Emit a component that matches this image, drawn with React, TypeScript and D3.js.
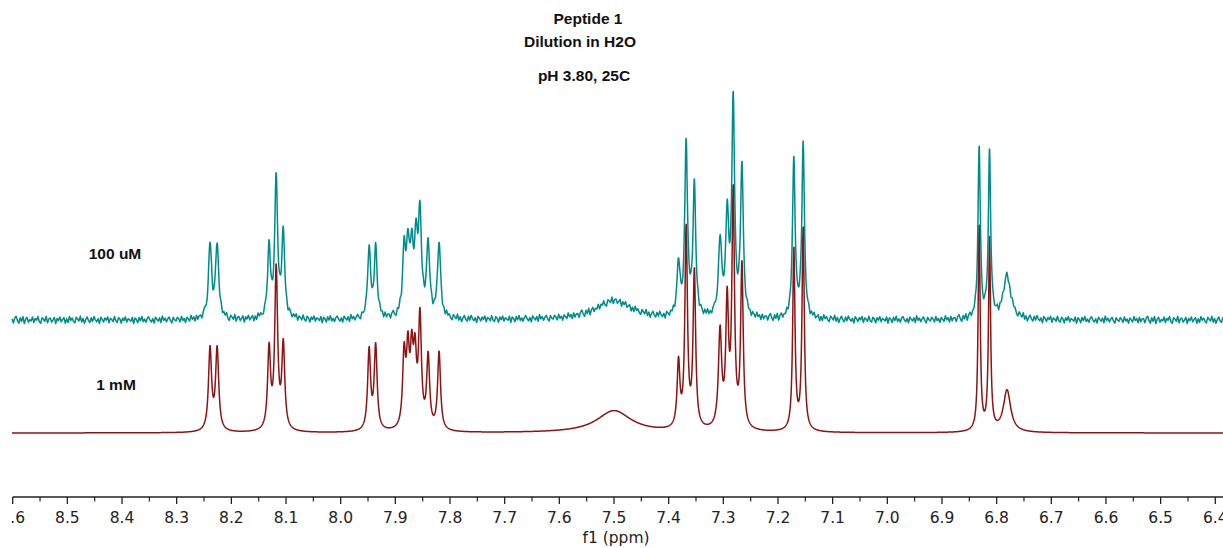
import React from "react";
import * as d3 from "d3";

// ---- Data ----
const titleLines = ["Peptide 1", "Dilution in H2O", "pH 3.80, 25C"];
const seriesLabels = ["100 uM", "1 mM"];
const axisTitle = "f1 (ppm)";
const ppmDomain = [8.6, 6.4];
const majorTicks = [8.6, 8.5, 8.4, 8.3, 8.2, 8.1, 8.0, 7.9, 7.8, 7.7, 7.6, 7.5, 7.4, 7.3, 7.2, 7.1, 7.0, 6.9, 6.8, 6.7, 6.6, 6.5, 6.4];

// peaks: [ppm, height, half-width (ppm)]
const peaks1mM: [number, number, number][] = [
  [8.239, 82, 0.0034], [8.226, 82, 0.0034],
  [8.131, 80, 0.0032], [8.118, 160, 0.0032], [8.105, 84, 0.0032],
  [7.948, 80, 0.0032], [7.936, 84, 0.0032],
  [7.884, 71, 0.0032], [7.877, 71, 0.0032], [7.870, 67, 0.0032], [7.864, 65, 0.0032],
  [7.855, 109, 0.0032], [7.840, 72, 0.0032], [7.820, 78, 0.0032],
  [7.500, 22, 0.038],
  [7.382, 65, 0.0030], [7.368, 199, 0.0028], [7.353, 156, 0.0028],
  [7.306, 96, 0.0035], [7.293, 123, 0.0030], [7.282, 233, 0.0028], [7.266, 163, 0.0028],
  [7.171, 182, 0.0025], [7.154, 203, 0.0025],
  [6.832, 206, 0.0022], [6.813, 193, 0.0022], [6.781, 42, 0.008],
];

const peaks100uM: [number, number, number][] = [
  [8.239, 74, 0.0034], [8.226, 74, 0.0034],
  [8.131, 68, 0.0032], [8.118, 137, 0.0032], [8.105, 83, 0.0032],
  [7.948, 70, 0.0032], [7.936, 70, 0.0032],
  [7.884, 62, 0.0034], [7.877, 62, 0.0034], [7.870, 60, 0.0034], [7.862, 68, 0.0034],
  [7.855, 95, 0.0034], [7.840, 72, 0.0034], [7.820, 74, 0.0034],
  [7.500, 19, 0.04],
  [7.382, 52, 0.0032], [7.368, 173, 0.0030], [7.353, 131, 0.0030],
  [7.306, 76, 0.0035], [7.293, 98, 0.0032], [7.282, 214, 0.0030], [7.266, 150, 0.0030],
  [7.171, 161, 0.0028], [7.154, 174, 0.0028],
  [6.832, 171, 0.0025], [6.813, 165, 0.0025], [6.781, 44, 0.008],
];

// hand-read noise pattern for the dilute trace (units of baseline noise)
const noisePattern = [
  0.3, -0.8, 0.5, 1.0, -0.2, -0.9, 0.6, -0.4, 0.9, -1.0, 0.2, 0.7, -0.6, 0.1, -0.3, 0.8, -0.7, 0.4, -0.1, 0.9,
  -0.5, -0.9, 0.6, 0.2, -0.4, 1.0, -0.8, 0.3, 0.5, -0.6, 0.0, 0.7, -1.0, 0.4, -0.2, 0.8, -0.5, 0.1, 0.6, -0.9,
  0.3, -0.7, 0.9, -0.1, 0.5, -0.4, -0.8, 0.7, 0.2, -0.3, 1.0, -0.6, 0.4, -0.9, 0.1, 0.8, -0.2, -0.7, 0.6, -0.4,
  0.9, 0.0, -0.5, 0.3, -1.0, 0.7, 0.2, -0.6, 0.5, -0.1, 0.8, -0.8, 0.4, 0.1, -0.5, 0.9, -0.3, -0.7, 0.6, 0.2,
  -0.9, 0.5, -0.2, 0.8, -0.6, 0.3, 0.0, -0.4, 0.7, -1.0, 0.5, 0.1, -0.8, 0.6, -0.3, 0.9, -0.5, 0.2, -0.7, 0.4,
  0.8, -0.1, -0.6, 0.3, -0.9, 0.7, 0.1, -0.4, 0.5, -0.8, 1.0, -0.2, 0.4, -0.6, 0.2, 0.7, -0.3, -0.9, 0.6, -0.1,
  -0.4, 0.6, 0.1, -0.7, 0.8, -0.3, 0.2, -0.9, 0.5, 0.0, -0.6, 0.9, -0.2, 0.4, -0.8, 0.7, -0.5, 0.3,
];

// vertical stacking offsets (intensity units)
const offset1mM = 1;
const offset100uM = 114;
const noiseAmp100uM = 3.7;

const W = 1223;
const H = 548;

function spectrum(peaks: [number, number, number][], start: number, end: number, step: number, noiseAmp: number) {
  const pts: [number, number][] = [];
  const n = Math.round((start - end) / step);
  for (let i = 0; i <= n; i++) {
    const ppm = start - i * step;
    let v = 0;
    for (const [c, h, w] of peaks) {
      const d = ppm - c;
      v += (h * w * w) / (d * d + w * w);
    }
    if (noiseAmp > 0) {
      const k = i / 5;
      const k0 = Math.floor(k);
      const f = k - k0;
      const a = noisePattern[k0 % noisePattern.length];
      const b = noisePattern[(k0 + 1) % noisePattern.length];
      v += noiseAmp * (a * (1 - f) + b * f);
    }
    pts.push([ppm, v]);
  }
  return pts;
}

export default function App() {
  const x = d3.scaleLinear().domain(ppmDomain).range([12.7, 1215.3]);
  const y = d3.scaleLinear().domain([0, 434]).range([434, 0]);
  const pStart = x.invert(12);
  const pEnd = x.invert(W);

  const red = spectrum(peaks1mM, pStart, pEnd, 0.0005, 0);
  const teal = spectrum(peaks100uM, pStart, pEnd, 0.0005, noiseAmp100uM);

  const lineRed = d3.line<[number, number]>().x((d) => x(d[0])).y((d) => y(d[1] + offset1mM));
  const lineTeal = d3.line<[number, number]>().x((d) => x(d[0])).y((d) => y(d[1] + offset100uM));

  const minorTicks = majorTicks.slice(0, -1).map((t) => +(t - 0.05).toFixed(2));
  const axisY = 497;

  return (
    <svg width={W} height={H} style={{ position: "absolute", left: 0, top: 0, background: "#fff" }}>
      <defs>
        <clipPath id="axisClip">
          <rect x={11} y={0} width={W} height={H} />
        </clipPath>
      </defs>
      <g fontFamily="'Liberation Sans', Arial, sans-serif" fontWeight="bold" fontSize={15.5} fill="#111" textAnchor="middle">
        <text x={588} y={24}>{titleLines[0]}</text>
        <text x={580} y={47}>{titleLines[1]}</text>
        <text x={584} y={80.5}>{titleLines[2]}</text>
        <text x={115} y={258.5}>{seriesLabels[0]}</text>
        <text x={116} y={389.5}>{seriesLabels[1]}</text>
      </g>
      <path d={lineRed(red) || ""} fill="none" stroke="#8b1414" strokeWidth={1.5} strokeLinejoin="round" />
      <path d={lineTeal(teal) || ""} fill="none" stroke="#008b8b" strokeWidth={1.5} strokeLinejoin="round" />
      <g clipPath="url(#axisClip)">
        <line x1={x(ppmDomain[0])} x2={W} y1={axisY} y2={axisY} stroke="#222" strokeWidth={1.3} />
        {majorTicks.map((t) => (
          <line key={"M" + t} x1={x(t)} x2={x(t)} y1={axisY} y2={axisY + 7} stroke="#222" strokeWidth={1.3} />
        ))}
        {minorTicks.map((t) => (
          <line key={"m" + t} x1={x(t)} x2={x(t)} y1={axisY} y2={axisY + 4.5} stroke="#222" strokeWidth={1.2} />
        ))}
        <g fontFamily="'DejaVu Sans', Verdana, sans-serif" fontSize={15.5} fill="#222" textAnchor="middle">
          {majorTicks.map((t) => (
            <text key={"l" + t} x={x(t)} y={522.5}>{t.toFixed(1)}</text>
          ))}
        </g>
      </g>
      <text x={616} y={543} fontFamily="'DejaVu Sans', Verdana, sans-serif" fontSize={15.5} fill="#222" textAnchor="middle">
        {axisTitle}
      </text>
    </svg>
  );
}
